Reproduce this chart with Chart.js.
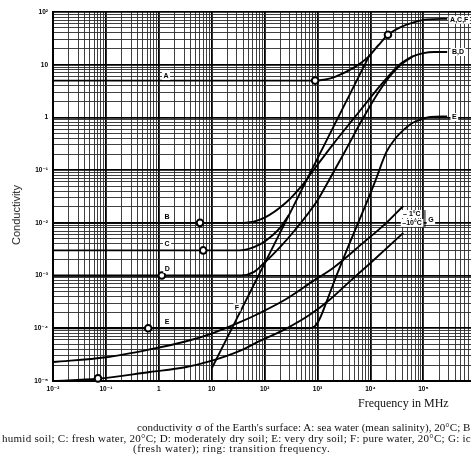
<!DOCTYPE html>
<html><head><meta charset="utf-8">
<script src="https://cdn.jsdelivr.net/npm/chart.js@4.4.1/dist/chart.umd.min.js"></script>
<style>
html,body{margin:0;padding:0;background:#fff;overflow:hidden;}
#wrap{position:relative;width:471px;height:459px;overflow:hidden;background:#fff;}
canvas{position:absolute;left:0;top:0;}
.t{position:absolute;white-space:nowrap;color:#111;font-family:"Liberation Serif","Times New Roman",serif;line-height:12px;}
</style></head><body>
<div id="wrap">
<canvas id="c" width="471" height="459"></canvas>
<div class="t" id="ytitle" style="left:16px;top:215px;transform:translate(-50%,-50%) rotate(-90deg);font-family:'Liberation Sans',Arial,sans-serif;font-size:11px;color:#222;">Conductivity</div>
<div class="t" style="left:358px;top:397px;font-size:12px;">Frequency in MHz</div>
<div class="t" style="left:137px;top:421px;font-size:11px;letter-spacing:0.05px;">conductivity σ of the Earth's surface: A: sea water (mean salinity), 20°C; B: moist</div>
<div class="t" style="left:2px;top:431.5px;font-size:11px;letter-spacing:0.27px;">humid soil; C: fresh water, 20°C; D: moderately dry soil; E: very dry soil; F: pure water, 20°C; G: ice</div>
<div class="t" style="left:133px;top:442px;font-size:11px;letter-spacing:0.5px;">(fresh water); ring: transition frequency.</div>
</div>
<script>
// ---- data (frequency in MHz, conductivity) ----
const A_f = [0.01, 891, 1413, 2138, 5129, 9120, 14125, 21400, 36300, 63100, 117500, 281800];
const A_s = [5.0, 5.0, 5.25, 5.9, 9.1, 14.1, 23.4, 37.0, 51.3, 63.1, 72.4, 74.1];
const F_f = [10, 9550];
const F_s = [1.74e-5, 15.0];
const C_f = [0.01, 33.9, 81.3, 141, 200, 282];
const C_s = [3e-3, 3e-3, 3.9e-3, 5.8e-3, 8.3e-3, 1.38e-2];
const B_f = [0.01, 40, 100, 251, 501, 794, 1995, 5012, 12590, 25120, 39810, 63100, 100000, 158500, 281800];
const B_s = [0.01, 0.01, 0.0126, 0.024, 0.0501, 0.0933, 0.316, 1.0, 3.16, 7.08, 10.96, 14.45, 16.6, 17.4, 17.4];
const D_f = [0.01, 35.5, 63.1, 89.1, 199.5, 371.5, 1000, 1585, 3311, 6918, 13800, 25120, 39810, 63100];
const D_s = [1e-3, 1e-3, 1.175e-3, 1.585e-3, 3.55e-3, 7.24e-3, 0.0269, 0.0603, 0.229, 0.891, 2.88, 6.61, 10.5, 14.45];
const E_f = [0.01, 708, 891, 1122, 1514, 1995, 2692, 3981, 5623, 8913, 12590, 19950, 29510, 41690, 63100, 95500, 134900, 281800];
const E_s = [1e-4, 1e-4, 1.096e-4, 1.585e-4, 3.39e-4, 7.08e-4, 1.51e-3, 3.98e-3, 9.12e-3, 0.0275, 0.0661, 0.219, 0.398, 0.575, 0.794, 0.933, 1.023, 1.047];
const G1_f = [0.01, 0.1, 0.676, 3.16, 10, 31.6, 81.3, 251, 832, 1995, 7244, 19950, 41690];
const G1_s = [2.29e-5, 2.82e-5, 3.98e-5, 5.62e-5, 7.94e-5, 1.26e-4, 1.95e-4, 3.55e-4, 7.94e-4, 1.41e-3, 4.17e-3, 0.01, 0.0209];
const G2_f = [0.01, 0.0708, 0.676, 3.16, 9.77, 33.9, 81.3, 263, 724, 1738, 4074, 9772, 41690];
const G2_s = [1e-5, 1.1e-5, 1.48e-5, 1.82e-5, 2.40e-5, 3.72e-5, 5.75e-5, 1e-4, 1.82e-4, 3.55e-4, 7.76e-4, 1.70e-3, 6.46e-3];
// transition-frequency rings
const ring_f = [898, 21400, 6.0, 6.9, 1.14, 0.63, 0.0708];
const ring_s = [5.0, 37.0, 0.01, 3e-3, 1e-3, 1e-4, 1.12e-5];
// curve labels: text, frequency, conductivity
const lab_t = ["A", "B", "C", "D", "E", "F", "A,C,F", "B,D", "E", "– 1°C", "–10°C", "G"];
const lab_f = [1.37, 1.43, 1.43, 1.45, 1.43, 30, 320000, 347000, 347000, 41300, 40000, 123000];
const lab_s = [6.1, 0.0129, 0.00398, 0.00133, 0.000132, 0.00025, 71, 17.4, 1.02, 0.0147, 0.0100, 0.0113];
// axis ranges
const xMin = 0.01, xMax = 794000, yMin = 1e-5, yMax = 100;

const pts = (fs, ss) => fs.map((f, i) => ({x: f, y: ss[i]}));
function gridVals(min, max) {
  const out = [];
  for (let e = Math.floor(Math.log10(min)); e <= Math.ceil(Math.log10(max)); e++) {
    for (let m = 1; m <= 9; m++) {
      const v = +(m * Math.pow(10, e)).toPrecision(6);
      if (v >= min * 0.9999 && v <= max * 1.0001) out.push(v);
    }
  }
  return out;
}
const isDecade = v => Math.abs(Math.log10(v) - Math.round(Math.log10(v))) < 1e-6;
const SUP = {"-":"⁻","0":"⁰","1":"¹","2":"²","3":"³","4":"⁴","5":"⁵","6":"⁶","7":"⁷","8":"⁸","9":"⁹"};
function decLabel(v) {
  if (!isDecade(v)) return '';
  const e = Math.round(Math.log10(v));
  if (e === 0) return '1';
  if (e === 1) return '10';
  return '10' + String(e).split('').map(c => SUP[c]).join('');
}
const curve = (d) => ({type: 'line', data: d, borderColor: '#000', borderWidth: 1.9, pointRadius: 0,
  fill: false, cubicInterpolationMode: 'monotone', order: 2});

const labelPlugin = {
  id: 'labels',
  afterDatasetsDraw(chart) {
    const {ctx, scales: {x, y}} = chart;
    ctx.save();
    ctx.font = 'bold 7px "Liberation Sans", "DejaVu Sans", sans-serif';
    ctx.textBaseline = 'middle';
    lab_t.forEach((t, i) => {
      const px = x.getPixelForValue(lab_f[i]);
      const py = y.getPixelForValue(lab_s[i]);
      const w = ctx.measureText(t).width;
      const right = i >= 6;
      const lx = right ? px : px - w / 2;
      ctx.fillStyle = '#fff';
      ctx.fillRect(lx - 1.5, py - 4, w + 3, 8);
      ctx.fillStyle = '#000';
      ctx.textAlign = 'left';
      ctx.fillText(t, lx, py + 0.5);
    });
    const bx = x.getPixelForValue(107000);
    ctx.strokeStyle = '#000'; ctx.lineWidth = 1;
    ctx.beginPath();
    ctx.moveTo(bx, y.getPixelForValue(0.0175));
    ctx.lineTo(bx, y.getPixelForValue(0.0083));
    ctx.stroke();
    ctx.restore();
  }
};

const tickFont = {family: '"Liberation Sans", "DejaVu Sans", sans-serif', size: 6.5, weight: 'bold'};
const gridOpts = {drawTicks: false,
  color: c => (c.tick && isDecade(c.tick.value)) ? '#000' : '#2a2a2a',
  lineWidth: c => (c.tick && isDecade(c.tick.value)) ? 1.8 : 0.9};
new Chart(document.getElementById('c'), {
  type: 'line',
  data: {
    datasets: [
      curve(pts(A_f, A_s)), curve(pts(F_f, F_s)), curve(pts(C_f, C_s)), curve(pts(B_f, B_s)),
      curve(pts(D_f, D_s)), curve(pts(E_f, E_s)), curve(pts(G1_f, G1_s)), curve(pts(G2_f, G2_s)),
      {type: 'scatter', data: pts(ring_f, ring_s), pointRadius: 3.3, pointBorderWidth: 2,
       pointBackgroundColor: '#fff', pointBorderColor: '#000', showLine: false, order: 1, clip: false}
    ]
  },
  options: {
    responsive: false, animation: false,
    layout: {autoPadding: false, padding: {top: 12, left: 0, right: 0, bottom: 0}},
    plugins: {legend: {display: false}, tooltip: {enabled: false}},
    scales: {
      x: {
        type: 'logarithmic', min: xMin, max: xMax,
        afterBuildTicks: s => { s.ticks = gridVals(xMin, xMax).map(v => ({value: v})); },
        afterFit: s => { s.height = 78; s.paddingLeft = 0; s.paddingRight = 0; },
        ticks: {autoSkip: false, maxRotation: 0, padding: 4, color: '#000', font: tickFont,
                callback: v => decLabel(v)},
        grid: gridOpts,
        border: {display: true, color: '#000', width: 2}
      },
      y: {
        type: 'logarithmic', min: yMin, max: yMax,
        afterBuildTicks: s => { s.ticks = gridVals(yMin, yMax).map(v => ({value: v})); },
        afterFit: s => { s.width = 53; s.paddingTop = 0; s.paddingBottom = 0; },
        ticks: {autoSkip: false, padding: 5, color: '#000', font: tickFont,
                callback: v => decLabel(v)},
        grid: gridOpts,
        border: {display: true, color: '#000', width: 2}
      }
    }
  },
  plugins: [labelPlugin]
});
</script>
</body></html>
